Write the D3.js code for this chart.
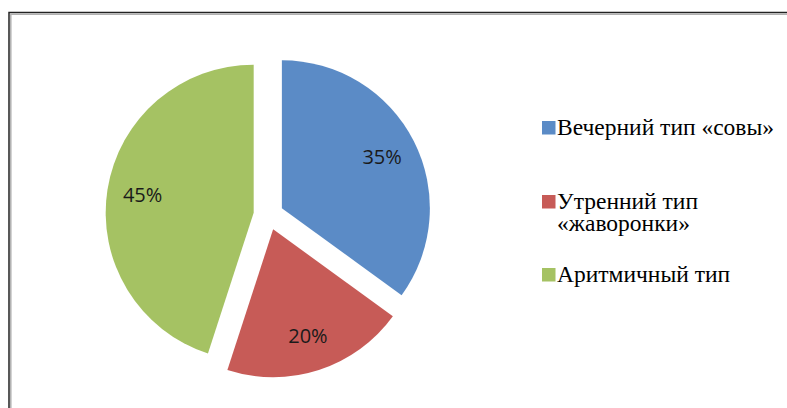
<!DOCTYPE html>
<html>
<head>
<meta charset="utf-8">
<script src="https://cdn.jsdelivr.net/npm/d3@7"></script>
<style>
  body { margin: 0; background: #fff; }
  svg { display: block; }
</style>
</head>
<body>
<div id="chart"></div>
<script>
/* Pie chart with exploded slices */

const width = 787, height = 408;

const categories = ["Вечерний тип «совы»", "Утренний тип «жаворонки»", "Аритмичный тип"];
const legendLines = [["Вечерний тип «совы»"], ["Утренний тип", "«жаворонки»"], ["Аритмичный тип"]];
const values = [35, 20, 45];
const colors = ["#5b8bc6", "#c75b57", "#a5c263"];

const cx = 268.5, cy = 215, radius = 148, explode = 15;

const svg = d3.select("#chart")
  .append("svg")
  .attr("width", width)
  .attr("height", height)
  .attr("viewBox", [0, 0, width, height]);

// chart frame (cut off at right/bottom)
svg.append("rect")
  .attr("x", 9).attr("y", 12.5)
  .attr("width", width + 20).attr("height", height + 20)
  .attr("fill", "none")
  .attr("stroke", "#222")
  .attr("stroke-width", 1.5);
svg.append("path")
  .attr("d", `M10.8,${height} V14.3 H${width}`)
  .attr("fill", "none")
  .attr("stroke", "#b0b0b0")
  .attr("stroke-width", 1.5);

const pie = d3.pie().sort(null).value(d => d)(values);

const arc = d3.arc().innerRadius(0).outerRadius(radius);

const g = svg.append("g").attr("transform", `translate(${cx},${cy})`);

const slices = g.selectAll("g.slice")
  .data(pie)
  .join("g")
  .attr("class", "slice")
  .attr("transform", d => {
    const a = (d.startAngle + d.endAngle) / 2;
    return `translate(${explode * Math.sin(a)},${-explode * Math.cos(a)})`;
  });

slices.append("path")
  .attr("d", arc)
  .attr("fill", (d, i) => colors[i]);

slices.append("text")
  .attr("transform", d => {
    const a = (d.startAngle + d.endAngle) / 2;
    const r = radius * 0.76;
    return `translate(${r * Math.sin(a)},${-r * Math.cos(a)})`;
  })
  .attr("text-anchor", "middle")
  .attr("dy", "0.36em")
  .style("font-family", "'Open Sans', sans-serif")
  .style("font-size", "20px")
  .attr("fill", "#1a1a1a")
  .text(d => d.data + "%");

// legend
const legendY = [121, 195, 268];
const legend = svg.append("g");
legendLines.forEach((lines, i) => {
  legend.append("rect")
    .attr("x", 542).attr("y", legendY[i])
    .attr("width", 13.5).attr("height", 13.5)
    .attr("fill", colors[i]);
  const t = legend.append("text")
    .style("font-family", "'Liberation Serif', serif")
    .style("font-size", "23.5px")
    .attr("fill", "#000");
  lines.forEach((line, j) => {
    t.append("tspan")
      .attr("x", 557)
      .attr("y", legendY[i] + 14 + j * 22)
      .text(line);
  });
});
</script>
</body>
</html>
